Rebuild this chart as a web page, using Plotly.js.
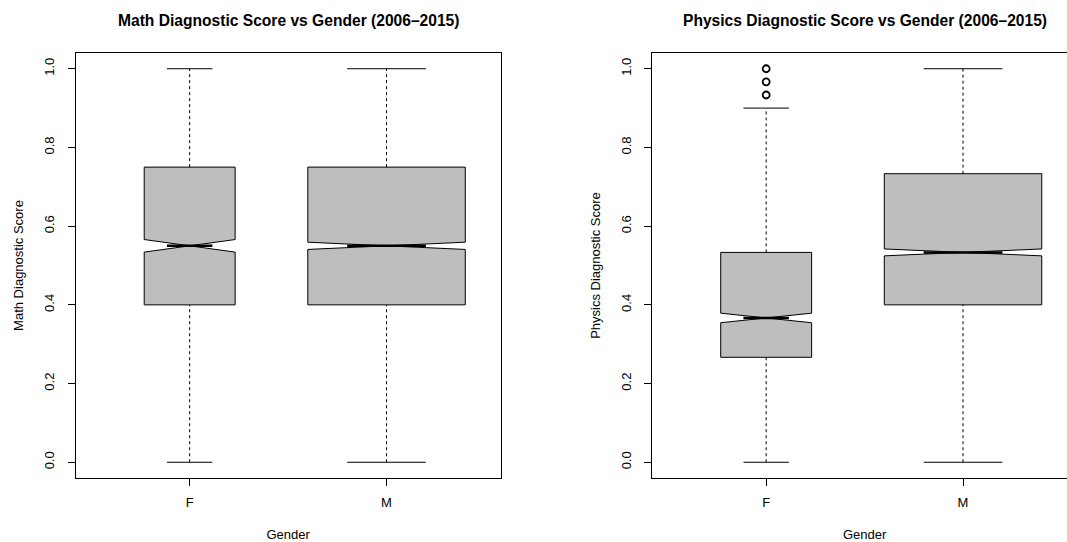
<!DOCTYPE html>
<html>
<head>
<meta charset="utf-8">
<script src="https://cdn.plot.ly/plotly-3.0.1.min.js"></script>
<style>
  html, body { margin: 0; padding: 0; overflow: hidden; background: #fff; }
  #chart { width: 1080px; height: 542px; }
</style>
</head>
<body>
<div id="chart"></div>
<script>
// Diagnostic scores by gender, 2006-2015 (scores as fraction correct)
const genders = ['F', 'M'];
const studentCounts = [1200, 3600];

const mathLower = [0.0, 0.0];
const mathQ1 = [0.40, 0.40];
const mathMedian = [0.55, 0.55];
const mathQ3 = [0.75, 0.75];
const mathUpper = [1.0, 1.0];
const mathOutliers = [[], []];

const physicsLower = [0.0, 0.0];
const physicsQ1 = [0.2667, 0.4000];
const physicsMedian = [0.3667, 0.5333];
const physicsQ3 = [0.5333, 0.7333];
const physicsUpper = [0.9000, 1.0];
const physicsOutliers = [[0.9333, 0.9667, 1.0], []];

const yTicks = [0, 0.2, 0.4, 0.6, 0.8, 1.0];

const FONT = 'Liberation Sans, Arial, Helvetica, sans-serif';
const BOX_FILL = '#bebebe';
const INK = '#000000';

// box widths proportional to sqrt(n), widest box = 0.8 (varwidth)
const maxRoot = Math.max(...studentCounts.map(Math.sqrt));
const boxWidths = studentCounts.map(n => 0.8 * Math.sqrt(n) / maxRoot);

function panelTraces(stats, xa, ya) {
  const traces = [];
  genders.forEach((g, i) => {
    const pos = i + 1;
    const w = boxWidths[i];
    const iqr = stats.q3[i] - stats.q1[i];
    const notch = 1.58 * iqr / Math.sqrt(studentCounts[i]);

    // notched box (whiskers drawn separately as dashed lines)
    traces.push({
      type: 'box', xaxis: xa, yaxis: ya,
      x: [pos], name: g,
      q1: [stats.q1[i]], median: [stats.median[i]], q3: [stats.q3[i]],
      lowerfence: [stats.q1[i]], upperfence: [stats.q3[i]],
      notched: true, notchwidth: 0.5, notchspan: [notch],
      width: w, whiskerwidth: 0,
      fillcolor: BOX_FILL,
      line: { color: INK, width: 1 },
      boxpoints: false, hoverinfo: 'skip', showlegend: false
    });

    // dashed whiskers
    traces.push({
      type: 'scatter', mode: 'lines', xaxis: xa, yaxis: ya,
      x: [pos, pos, null, pos, pos],
      y: [stats.q3[i], stats.upper[i], null, stats.lower[i], stats.q1[i]],
      line: { color: INK, width: 1, dash: '3px,3px' },
      hoverinfo: 'skip', showlegend: false
    });

    // whisker caps (half the box width)
    traces.push({
      type: 'scatter', mode: 'lines', xaxis: xa, yaxis: ya,
      x: [pos - w / 4, pos + w / 4, null, pos - w / 4, pos + w / 4],
      y: [stats.upper[i], stats.upper[i], null, stats.lower[i], stats.lower[i]],
      line: { color: INK, width: 1 },
      hoverinfo: 'skip', showlegend: false
    });

    // heavy median bar across the notch
    traces.push({
      type: 'scatter', mode: 'lines', xaxis: xa, yaxis: ya,
      x: [pos - w / 4, pos + w / 4],
      y: [stats.median[i], stats.median[i]],
      line: { color: INK, width: 2.5 },
      hoverinfo: 'skip', showlegend: false
    });

    // outlying scores
    if (stats.outliers[i].length) {
      traces.push({
        type: 'scatter', mode: 'markers', xaxis: xa, yaxis: ya,
        x: stats.outliers[i].map(() => pos),
        y: stats.outliers[i],
        marker: { symbol: 'circle-open', size: 7, color: INK, line: { width: 1.8, color: INK } },
        hoverinfo: 'skip', showlegend: false
      });
    }
  });
  return traces;
}

const data = [
  ...panelTraces({ lower: mathLower, q1: mathQ1, median: mathMedian, q3: mathQ3,
                   upper: mathUpper, outliers: mathOutliers }, 'x', 'y'),
  ...panelTraces({ lower: physicsLower, q1: physicsQ1, median: physicsMedian, q3: physicsQ3,
                   upper: physicsUpper, outliers: physicsOutliers }, 'x2', 'y2')
];

const W = 1080, H = 542;
const leftDom = [75.5 / W, 500.7 / W];
const rightDom = [652 / W, 1077.2 / W];
const yDom = [64 / H, 489 / H];

function xAxis(domain, anchor) {
  return {
    domain, anchor,
    range: [0.42, 2.58],
    tickvals: genders.map((g, i) => i + 1),
    ticktext: genders,
    ticks: 'outside', ticklen: 7, tickwidth: 1, tickcolor: INK,
    ticklabelstandoff: 5,
    tickfont: { family: FONT, size: 13, color: INK },
    showline: true, mirror: true, linecolor: INK, linewidth: 1,
    showgrid: false, zeroline: false, automargin: false, fixedrange: true,
    title: { text: 'Gender', font: { family: FONT, size: 13, color: INK }, standoff: 23 }
  };
}

function yAxis(domain, anchor, label) {
  return {
    domain, anchor,
    range: [-0.04, 1.04],
    tickvals: yTicks, tickformat: '.1f', tickangle: -90,
    ticks: 'outside', ticklen: 7, tickwidth: 1, tickcolor: INK,
    ticklabelstandoff: 8,
    tickfont: { family: FONT, size: 13, color: INK },
    showline: true, mirror: true, linecolor: INK, linewidth: 1,
    showgrid: false, zeroline: false, automargin: false, fixedrange: true,
    title: { text: label, font: { family: FONT, size: 13, color: INK }, standoff: 15 }
  };
}

function panelTitle(text, dom) {
  return {
    text, xref: 'paper', yref: 'paper',
    x: (dom[0] + dom[1]) / 2, y: (H - 20) / H,
    xanchor: 'center', yanchor: 'middle', showarrow: false,
    font: { family: FONT, size: 15.6, color: INK, weight: 'bold' }
  };
}

const layout = {
  width: W, height: H,
  margin: { l: 0, r: 0, t: 0, b: 0, pad: 0 },
  paper_bgcolor: '#ffffff', plot_bgcolor: '#ffffff',
  showlegend: false, boxmode: 'overlay',
  font: { family: FONT, size: 13, color: INK },
  xaxis: xAxis(leftDom, 'y'),
  yaxis: yAxis(yDom, 'x', 'Math Diagnostic Score'),
  xaxis2: xAxis(rightDom, 'y2'),
  yaxis2: yAxis(yDom, 'x2', 'Physics Diagnostic Score'),
  annotations: [
    panelTitle('Math Diagnostic Score vs Gender (2006\u20132015)', leftDom),
    panelTitle('Physics Diagnostic Score vs Gender (2006\u20132015)', rightDom)
  ]
};

Plotly.newPlot('chart', data, layout, { displayModeBar: false, staticPlot: true });
</script>
</body>
</html>
